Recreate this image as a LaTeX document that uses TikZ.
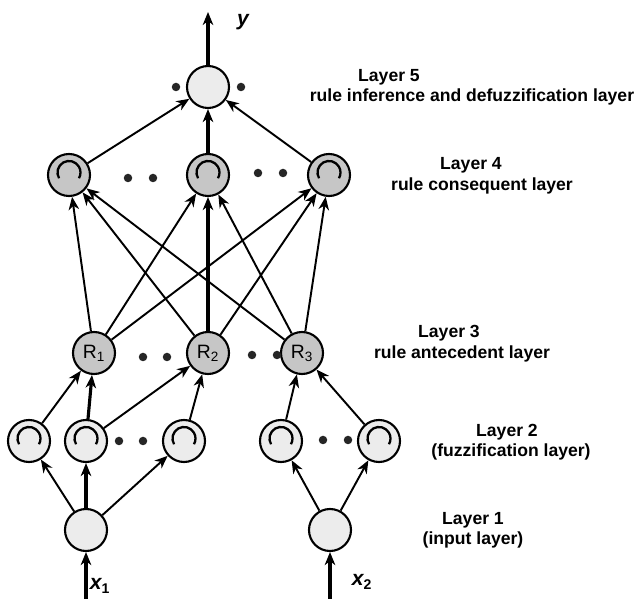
\documentclass[tikz,border=0pt]{standalone}
\usepackage{fontspec}
\setmainfont{Liberation Sans}
\usetikzlibrary{arrows.meta,positioning}
\newcommand{\mfarc}[1]{\draw[line width=1.3pt] ([shift={(210:0.23)}]#1.center) ++(0,0.05) arc (210:-30:0.23);}

\begin{document}
\begin{tikzpicture}
\useasboundingbox (0,0) rectangle (12.72,11.98);
\tikzstyle{neuron} = [draw, circle, line width=1.2pt, minimum size=8.4mm, inner sep=0pt,
  font=\fontsize{11}{12}\selectfont];
\tikzstyle{light} = [neuron, fill=gray!15];
\tikzstyle{dark} = [neuron, fill=gray!45];
\tikzstyle{line} = [draw, -{Stealth[length=2.6mm, width=2.1mm, inset=0.8mm]}, line width=1.1pt]
\tikzstyle{thickline} = [line, line width=1.8pt]
\tikzstyle{layertext} = [font=\fontsize{10}{12}\selectfont\bfseries]
\tikzstyle{varname} = [font=\fontsize{12}{14}\selectfont\bfseries\itshape]
% layer 5
\node [light] at (4.16, 10.24) (out) {};
\coordinate (ytop) at (4.16, 11.74);
% layer 4
\node [dark] at (1.38, 8.48) (c1) {};
\node [dark] at (4.16, 8.48) (c2) {};
\node [dark] at (6.58, 8.48) (c3) {};
% layer 3
\node [dark] at (1.88, 4.92) (r1) {R\textsubscript{1}};
\node [dark] at (4.16, 4.92) (r2) {R\textsubscript{2}};
\node [dark] at (6.04, 4.92) (r3) {R\textsubscript{3}};
% layer 2
\node [light] at (0.58, 3.16) (f1) {};
\node [light] at (1.72, 3.16) (f2) {};
\node [light] at (3.68, 3.16) (f3) {};
\node [light] at (5.62, 3.16) (f4) {};
\node [light] at (7.58, 3.16) (f5) {};
% layer 1
\node [light] at (1.72, 1.38) (in1) {};
\node [light] at (6.60, 1.38) (in2) {};
\coordinate (x1s) at (1.72, 0);
\coordinate (x2s) at (6.60, 0);
% membership arcs
\foreach \n in {c1,c2,c3,f1,f2,f3,f4,f5} {\mfarc{\n}}
% dots
\foreach \x/\y in {3.52/10.24, 4.82/10.24, 2.56/8.42, 3.06/8.42, 5.16/8.52, 5.66/8.52,
  2.86/4.84, 3.34/4.84, 5.04/4.88, 5.54/4.88, 2.38/3.16, 2.86/3.16, 6.46/3.18, 6.96/3.18}
  \fill[black!85] (\x, \y) circle (0.085);
% connections
\path [thickline] (out) -- (ytop);
\path [line] (c1) -- (out);
\path [thickline] (c2) -- (out);
\path [line] (c3) -- (out);
\foreach \a/\b in {r1/c1, r1/c2, r1/c3, r2/c1, r2/c3, r3/c1, r3/c2, r3/c3}
  \path [line] (\a) -- (\b);
\path [thickline] (r2) -- (c2);
\path [line] (f1) -- (r1);
\path [thickline] (f2) -- (r1);
\path [line] (f2) -- (r2);
\path [line] (f3) -- (r2);
\path [line] (f4) -- (r3);
\path [line] (f5) -- (r3);
\path [line] (in1) -- (f1);
\path [thickline] (in1) -- (f2);
\path [line] (in1) -- (f3);
\path [line] (in2) -- (f4);
\path [line] (in2) -- (f5);
\path [thickline] (x1s) -- (in1);
\path [thickline] (x2s) -- (in2);
% variable names
\node [varname] at (4.86, 11.54) (ylab) {y};
\node [varname] at (2.0, 0.26) (x1lab) {x\textsubscript{\upshape 1}};
\node [varname] at (7.24, 0.34) (x2lab) {x\textsubscript{\upshape 2}};
% layer descriptions
\node [layertext] at (7.78, 10.44) (l5a) {Layer 5};
\node [layertext] at (9.44, 10.04) (l5b) {rule inference and defuzzification layer};
\node [layertext] at (9.42, 8.68) (l4a) {Layer 4};
\node [layertext] at (9.64, 8.26) (l4b) {rule consequent layer};
\node [layertext] at (8.98, 5.32) (l3a) {Layer 3};
\node [layertext] at (9.24, 4.90) (l3b) {rule antecedent layer};
\node [layertext] at (10.14, 3.34) (l2a) {Layer 2};
\node [layertext] at (10.22, 2.94) (l2b) {(fuzzification layer)};
\node [layertext] at (9.46, 1.58) (l1a) {Layer 1};
\node [layertext] at (9.46, 1.18) (l1b) {(input layer)};
\end{tikzpicture}
\end{document}
